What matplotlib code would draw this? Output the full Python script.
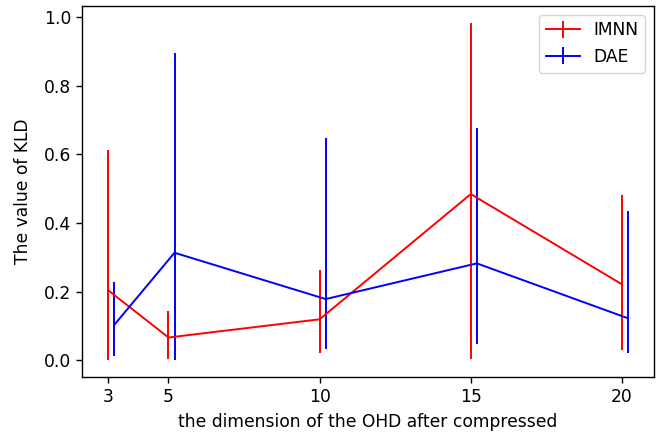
import matplotlib
matplotlib.use("Agg")
import matplotlib.pyplot as plt
import numpy as np

# data
dims = [3, 5, 10, 15, 20]
dae_dims = [3.2, 5.2, 10.2, 15.2, 20.2]

imnn_mean = [0.204, 0.066, 0.119, 0.484, 0.221]
imnn_low = [0.000, 0.003, 0.022, 0.002, 0.029]
imnn_high = [0.612, 0.144, 0.262, 0.983, 0.481]

dae_mean = [0.102, 0.313, 0.178, 0.282, 0.122]
dae_low = [0.012, 0.000, 0.032, 0.047, 0.020]
dae_high = [0.228, 0.894, 0.648, 0.677, 0.434]


def _err(mean, low, high):
    mean = np.array(mean)
    return [mean - np.array(low), np.array(high) - mean]


plt.rcParams['font.size'] = 12.3
plt.rcParams['axes.linewidth'] = 1.0
plt.rcParams['xtick.major.size'] = 4.3
plt.rcParams['ytick.major.size'] = 4.3
plt.rcParams['xtick.major.width'] = 1.0
plt.rcParams['ytick.major.width'] = 1.0

fig = plt.figure(figsize=(6.7, 4.37), dpi=100)
ax = fig.add_axes([0.1224, 0.1373, 0.8537, 0.849])

ax.errorbar(dims, imnn_mean, yerr=_err(imnn_mean, imnn_low, imnn_high),
            color='red', linewidth=1.4, label='IMNN')
ax.errorbar(dae_dims, dae_mean, yerr=_err(dae_mean, dae_low, dae_high),
            color='blue', linewidth=1.4, label='DAE')

ax.set_xticks(dims)
ax.set_xlabel('the dimension of the OHD after compressed', labelpad=5.5)
ax.set_ylabel('The value of KLD', labelpad=8.5)
ax.legend(loc='upper right')

fig.savefig('out.png', dpi=100)
